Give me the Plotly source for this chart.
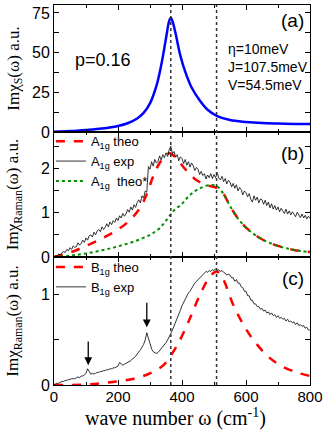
import plotly.graph_objects as go
from plotly.subplots import make_subplots

# panel (a): Im chi_S
wa = [0, 50, 100, 150, 200, 230, 260, 280, 300, 320, 335, 350, 360, 365, 370, 380, 395, 410, 430, 455, 480, 510, 550, 600, 650, 700, 750, 800]
chi_s = [0.2, 0.6, 1.3, 2.2, 3.8, 5.5, 8.5, 12, 18, 29, 42, 59, 70, 72, 70, 62, 48, 38, 28, 20, 14, 10, 7.5, 6.3, 5.6, 5.3, 5.1, 5.0]

# panel (b): A1g
wb = [0, 50, 100, 150, 200, 240, 270, 290, 310, 330, 350, 362, 383, 415, 446, 477, 508, 530, 550, 580, 610, 650, 700, 750, 800]
a1g_theo = [0, 0.1, 0.25, 0.42, 0.62, 0.85, 1.12, 1.42, 1.82, 2.12, 2.3, 2.34, 2.22, 1.94, 1.73, 1.62, 1.56, 1.42, 1.15, 0.82, 0.6, 0.4, 0.25, 0.16, 0.11]
wg = [0, 50, 100, 150, 200, 250, 300, 330, 350, 375, 400, 425, 456, 487, 508, 530, 550, 580, 610, 650, 700, 750, 800]
a1g_theo_star = [0, 0.03, 0.08, 0.15, 0.24, 0.35, 0.5, 0.65, 0.82, 1.05, 1.2, 1.4, 1.55, 1.62, 1.6, 1.42, 1.15, 0.82, 0.6, 0.4, 0.25, 0.16, 0.11]

w5 = [0, 5, 10, 15, 20, 25, 30, 35, 40, 45, 50, 55, 60, 65, 70, 75, 80, 85, 90, 95,
      100, 105, 110, 115, 120, 125, 130, 135, 140, 145, 150, 155, 160, 165, 170, 175, 180, 185, 190, 195,
      200, 205, 210, 215, 220, 225, 230, 235, 240, 245, 250, 255, 260, 265, 270, 275, 280, 285, 290, 295,
      300, 305, 310, 315, 320, 325, 330, 335, 340, 345, 350, 355, 360, 365, 370, 375, 380, 385, 390, 395,
      400, 405, 410, 415, 420, 425, 430, 435, 440, 445, 450, 455, 460, 465, 470, 475, 480, 485, 490, 495,
      500, 505, 510, 515, 520, 525, 530, 535, 540, 545, 550, 555, 560, 565, 570, 575, 580, 585, 590, 595,
      600, 605, 610, 615, 620, 625, 630, 635, 640, 645, 650, 655, 660, 665, 670, 675, 680, 685, 690, 695,
      700, 705, 710, 715, 720, 725, 730, 735, 740, 745, 750, 755, 760, 765, 770, 775, 780, 785, 790, 795, 800]
a1g_exp = [0.00, 0.03, 0.02, 0.07, 0.04, 0.10, 0.12, 0.10, 0.17, 0.14,
           0.21, 0.17, 0.25, 0.22, 0.23, 0.32, 0.27, 0.30, 0.38, 0.33,
           0.43, 0.38, 0.48, 0.50, 0.45, 0.56, 0.50, 0.59, 0.62, 0.57,
           0.68, 0.62, 0.67, 0.75, 0.68, 0.79, 0.73, 0.82, 0.78, 0.88,
           0.82, 0.93, 0.88, 0.98, 0.92, 0.97, 1.07, 1.01, 1.13, 1.06,
           1.18, 1.12, 1.23, 1.29, 1.22, 1.38, 1.33, 1.49, 1.46, 2.04,
           1.98, 2.15, 2.05, 2.20, 2.12, 2.16, 2.28, 2.19, 2.31, 2.24,
           2.35, 2.27, 2.42, 2.50, 2.33, 2.38, 2.25, 2.31, 2.17, 2.26,
           2.22, 2.11, 2.20, 2.07, 2.15, 2.03, 2.12, 2.06, 1.95, 2.02,
           1.98, 1.86, 1.93, 1.84, 1.88, 1.76, 1.85, 1.79, 1.88, 1.77,
           1.86, 1.79, 1.90, 1.78, 1.74, 1.82, 1.70, 1.77, 1.65, 1.73,
           1.69, 1.58, 1.66, 1.55, 1.63, 1.49, 1.57, 1.52, 1.40, 1.49,
           1.45, 1.36, 1.43, 1.30, 1.24, 1.38, 1.28, 1.35, 1.22, 1.31,
           1.29, 1.19, 1.28, 1.16, 1.24, 1.11, 1.20, 1.08, 1.16, 1.06,
           1.13, 1.02, 1.10, 1.04, 0.98, 1.08, 0.97, 1.04, 0.95, 1.02,
           0.96, 0.91, 1.01, 0.93, 0.89, 0.97, 0.88, 0.94, 0.86, 0.92,
           0.87]

# panel (c): B1g
wc = [0, 100, 150, 200, 250, 300, 342, 373, 394, 425, 456, 487, 508, 529, 560, 592, 623, 665, 706, 758, 800]
b1g_theo = [0, 0.005, 0.02, 0.04, 0.07, 0.13, 0.22, 0.37, 0.5, 0.74, 1.0, 1.2, 1.26, 1.17, 0.89, 0.67, 0.5, 0.33, 0.22, 0.14, 0.10]
b1g_exp = [0.00, 0.01, 0.02, 0.02, 0.03, 0.04, 0.04, 0.05, 0.05, 0.06,
           0.06, 0.07, 0.07, 0.07, 0.08, 0.09, 0.08, 0.10, 0.10, 0.11,
           0.13, 0.18, 0.15, 0.12, 0.13, 0.12, 0.13, 0.14, 0.14, 0.15,
           0.15, 0.16, 0.16, 0.17, 0.17, 0.18, 0.18, 0.19, 0.19, 0.20,
           0.21, 0.25, 0.23, 0.22, 0.23, 0.24, 0.25, 0.26, 0.27, 0.29,
           0.30, 0.32, 0.34, 0.36, 0.39, 0.42, 0.45, 0.50, 0.58, 0.52,
           0.45, 0.40, 0.37, 0.36, 0.35, 0.36, 0.38, 0.40, 0.42, 0.44,
           0.47, 0.50, 0.53, 0.57, 0.61, 0.65, 0.70, 0.74, 0.78, 0.83,
           0.88, 0.92, 0.96, 0.99, 1.02, 1.04, 1.08, 1.10, 1.13, 1.15,
           1.17, 1.19, 1.21, 1.23, 1.24, 1.26, 1.25, 1.27, 1.26, 1.28,
           1.27, 1.29, 1.27, 1.28, 1.26, 1.27, 1.25, 1.24, 1.22, 1.23,
           1.22, 1.19, 1.19, 1.15, 1.17, 1.13, 1.13, 1.09, 1.08, 1.04,
           1.04, 0.99, 0.99, 0.94, 0.94, 0.90, 0.90, 0.87, 0.87, 0.84,
           0.85, 0.82, 0.83, 0.80, 0.81, 0.78, 0.80, 0.77, 0.78, 0.75,
           0.77, 0.74, 0.75, 0.73, 0.74, 0.71, 0.73, 0.70, 0.71, 0.69,
           0.70, 0.67, 0.69, 0.66, 0.67, 0.65, 0.66, 0.63, 0.64, 0.61,
           0.61]

dotted_lines = [365, 508]
arrow_x = [107, 290]
arrow_tip = [0.22, 0.64]
arrow_tail = [0.50, 0.93]

SANS = "Liberation Sans"
SERIF = "Liberation Serif"

fig = make_subplots(rows=3, cols=1, shared_xaxes=True, vertical_spacing=0,
                    row_heights=[127, 125, 128])

fig.add_trace(go.Scatter(x=wa, y=chi_s, mode="lines", line=dict(color="#0000ff", width=2.5, shape="spline"),
                         showlegend=False), row=1, col=1)

fig.add_trace(go.Scatter(x=wb, y=a1g_theo, mode="lines", name="A<sub>1g</sub> theo",
                         line=dict(color="#ff0000", width=2.5, dash="dash", shape="spline"),
                         legend="legend"), row=2, col=1)
fig.add_trace(go.Scatter(x=w5, y=a1g_exp, mode="lines", name="A<sub>1g</sub> exp",
                         line=dict(color="black", width=0.8), legend="legend"), row=2, col=1)
fig.add_trace(go.Scatter(x=wg, y=a1g_theo_star, mode="lines", name="A<sub>1g</sub>  theo*",
                         line=dict(color="#009000", width=2, dash="dot", shape="spline"),
                         legend="legend"), row=2, col=1)

fig.add_trace(go.Scatter(x=wc, y=b1g_theo, mode="lines", name="B<sub>1g</sub> theo",
                         line=dict(color="#ff0000", width=2.5, dash="dash", shape="spline"),
                         legend="legend2"), row=3, col=1)
fig.add_trace(go.Scatter(x=w5, y=b1g_exp, mode="lines", name="B<sub>1g</sub> exp",
                         line=dict(color="black", width=0.8), legend="legend2"), row=3, col=1)

for xv in dotted_lines:
    fig.add_shape(type="line", x0=xv, x1=xv, xref="x3", yref="paper", y0=0, y1=1,
                  line=dict(color="#333333", width=1.5, dash="dot"))

for xv, tip, tail in zip(arrow_x, arrow_tip, arrow_tail):
    fig.add_annotation(x=xv, y=tip, ax=xv, ay=tail, xref="x3", yref="y3", axref="x3", ayref="y3",
                       showarrow=True, arrowhead=2, arrowsize=1.2, arrowwidth=1.3, arrowcolor="black", text="")

axis_common = dict(showline=True, linecolor="black", linewidth=1, mirror="ticks", ticks="inside",
                   ticklen=5, tickcolor="black", showgrid=False, zeroline=False, automargin=False)

for r in (1, 2, 3):
    fig.update_xaxes(range=[0, 800], dtick=200, minor=dict(dtick=100, ticks="inside", ticklen=3, tickcolor="black"),
                     showticklabels=(r == 3), tickfont=dict(family=SANS, size=15, color="black"),
                     ticklabelstandoff=-2, **axis_common, row=r, col=1)

# x axis title
fig.add_annotation(text="wave number ω (cm<sup>-1</sup>)", x=0.473, y=-0.086, xref="paper", yref="paper",
                   xanchor="center", yanchor="middle", showarrow=False,
                   font=dict(family=SERIF, size=20, color="black"))

ytick_font = dict(family=SANS, size=16, color="black")
ytitle_font = dict(family=SERIF, size=17, color="black")
fig.update_yaxes(range=[0, 80], tickvals=[0, 25, 50, 75], tickfont=ytick_font,
                 minor=dict(tickvals=[12.5, 37.5, 62.5], ticks="inside", ticklen=5, tickcolor="black"),
                 title=dict(text="Imχ<sub>S</sub>(ω) a.u.", font=ytitle_font, standoff=8),
                 **axis_common, row=1, col=1)
fig.update_yaxes(range=[0, 2.82], tickvals=[0, 1, 2], tickfont=ytick_font,
                 minor=dict(tickvals=[0.5, 1.5, 2.5], ticks="inside", ticklen=5, tickcolor="black"),
                 title=dict(text="Imχ<sub>Raman</sub>(ω) a.u.", font=ytitle_font, standoff=17),
                 **axis_common, row=2, col=1)
fig.update_yaxes(range=[0, 1.42], tickvals=[0, 1], tickfont=ytick_font,
                 minor=dict(tickvals=[0.5], ticks="inside", ticklen=5, tickcolor="black"),
                 title=dict(text="Imχ<sub>Raman</sub>(ω) a.u.", font=ytitle_font, standoff=17),
                 **axis_common, row=3, col=1)

fig.add_annotation(text="(a)", x=0.985, y=0.98, xref="x domain", yref="y domain", xanchor="right", yanchor="top",
                   showarrow=False, font=dict(family=SANS, size=19, color="black"))
fig.add_annotation(text="(b)", x=0.985, y=0.93, xref="x2 domain", yref="y2 domain", xanchor="right", yanchor="top",
                   showarrow=False, font=dict(family=SANS, size=19, color="black"))
fig.add_annotation(text="(c)", x=0.985, y=0.93, xref="x3 domain", yref="y3 domain", xanchor="right", yanchor="top",
                   showarrow=False, font=dict(family=SANS, size=19, color="black"))
fig.add_annotation(text="p=0.16", x=0.19, y=0.57, xref="x domain", yref="y domain", xanchor="center", yanchor="middle",
                   showarrow=False, font=dict(family=SANS, size=18, color="black"))
fig.add_annotation(text="η=10meV<br>J=107.5meV<br>V=54.5meV", x=0.67, y=0.515, xref="x domain", yref="y domain",
                   xanchor="left", yanchor="middle", align="left", showarrow=False,
                   font=dict(family=SANS, size=14, color="black"))

legend_common = dict(xanchor="left", yanchor="top", bgcolor="rgba(0,0,0,0)", borderwidth=0,
                     font=dict(family=SANS, size=13, color="black"), tracegroupgap=0, itemwidth=30)
fig.update_layout(
    width=327, height=430,
    margin=dict(l=54, r=17, t=5, b=45),
    paper_bgcolor="white", plot_bgcolor="white",
    font=dict(family=SANS, color="black"),
    legend=dict(x=-0.012, y=0.681, **legend_common),
    legend2=dict(x=-0.012, y=0.35, **legend_common),
)

fig.write_html("out.html", config={"displayModeBar": False},
               post_script="document.body.style.margin='0';")
